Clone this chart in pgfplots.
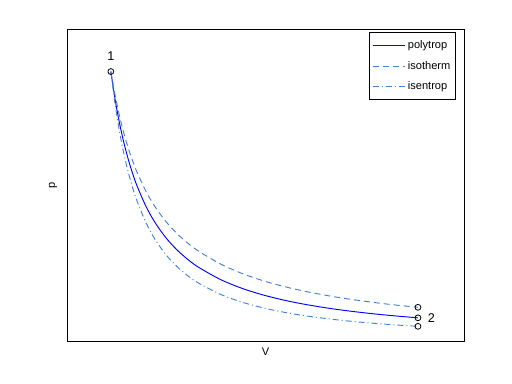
\documentclass[border=0pt]{standalone}
\usepackage{pgfplots}
\pgfplotsset{compat=1.18}
\usepackage{fontspec}
\setmainfont{Liberation Sans}
\definecolor{lb}{RGB}{70,130,210}
\begin{document}
\begin{tikzpicture}[font=\fontsize{8.3}{10}\selectfont]
\useasboundingbox (-50.25pt,-32.25pt) rectangle (333.75pt,255.75pt);
\begin{axis}[
  at={(0,0)}, anchor=south west,
  scale only axis, width=297.75pt, height=234pt,
  xmin=0, xmax=9.05, ymin=0, ymax=1.158,
  xtick=\empty, ytick=\empty,
  axis line style={line width=0.6pt},
  xlabel={V}, ylabel={p},
  xlabel style={at={(axis description cs:0.5,-0.035)}, anchor=center},
  ylabel style={at={(axis description cs:-0.035,0.5)}, anchor=center},
  legend style={at={(axis description cs:0.98,0.99)}, anchor=north east, draw=black, line width=0.6pt, font=\fontsize{8.3}{10}\selectfont, row sep=4pt, inner xsep=2pt, inner ysep=4pt},
  legend cell align=left,
  legend image code/.code={\draw[#1] (0cm,0cm) -- (0.85cm,0cm);},
]
\addplot[blue, line width=0.7pt, smooth] coordinates {
(1,1)(1.1,0.8936)(1.2,0.8064)(1.3,0.7337)(1.4,0.6723)(1.5,0.6197)(1.6,0.5743)(1.8,0.4998)(2,0.4414)(2.25,0.3841)(2.5,0.3392)(2.75,0.3031)(3,0.2735)(3.5,0.2280)(4,0.1948)(4.5,0.1695)(5,0.1497)(5.5,0.1338)(6,0.1207)(6.5,0.1099)(7,0.1007)(7.5,0.0928)(8,0.0860)};
\addlegendentry{polytrop}
\addplot[lb, line width=0.7pt, smooth, dash pattern=on 4.5pt off 3pt] coordinates {
(1,1)(1.1,0.9091)(1.2,0.8333)(1.3,0.7692)(1.4,0.7143)(1.5,0.6667)(1.6,0.625)(1.8,0.5556)(2,0.5)(2.25,0.4444)(2.5,0.4)(2.75,0.3636)(3,0.3333)(3.5,0.2857)(4,0.25)(4.5,0.2222)(5,0.2)(5.5,0.1818)(6,0.1667)(6.5,0.1538)(7,0.1429)(7.5,0.1333)(8,0.125)};
\addlegendentry{isotherm}
\addplot[lb, line width=0.7pt, smooth, dash pattern=on 4.5pt off 2.25pt on 0.75pt off 2.25pt] coordinates {
(1,1)(1.1,0.8751)(1.2,0.7747)(1.3,0.6926)(1.4,0.6244)(1.5,0.5668)(1.6,0.5179)(1.8,0.4392)(2,0.3789)(2.25,0.3213)(2.5,0.2772)(2.75,0.2426)(3,0.2148)(3.5,0.1731)(4,0.1436)(4.5,0.1218)(5,0.1051)(5.5,0.0919)(6,0.0814)(6.5,0.0728)(7,0.0656)(7.5,0.0595)(8,0.0544)};
\addlegendentry{isentrop}
\addplot[only marks, mark=o, mark size=2.2pt, black, line width=0.6pt, forget plot] coordinates {(1,1)(8,0.125)(8,0.0860)(8,0.0544)};
\node[above, yshift=5pt] at (axis cs:1,1) {\fontsize{9.5}{11}\selectfont 1};
\node[right, xshift=4pt] at (axis cs:8,0.0860) {\fontsize{9.5}{11}\selectfont 2};
\end{axis}
\end{tikzpicture}
\end{document}
